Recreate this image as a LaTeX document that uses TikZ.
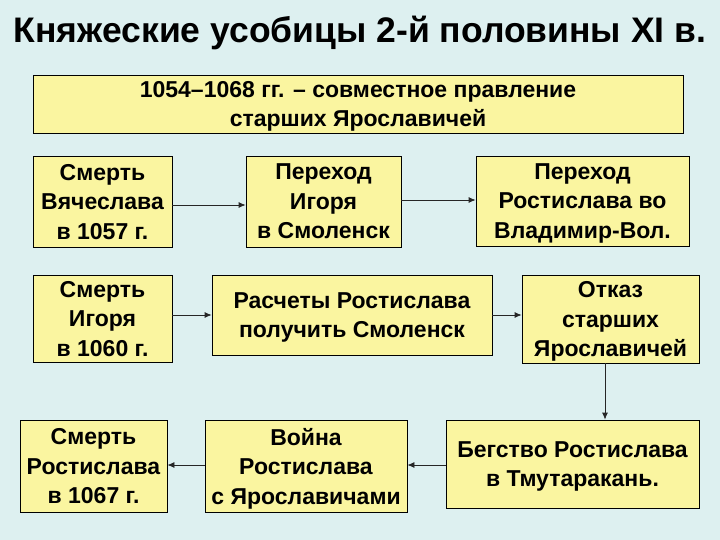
\documentclass[tikz,border=0pt]{standalone}
\usepackage{fontspec}
\setmainfont{Liberation Sans}
\usetikzlibrary{arrows.meta}
\definecolor{bg}{HTML}{DDF0F0}
\definecolor{boxy}{HTML}{FAF5A0}
\tikzset{
  bx/.style={draw=black, fill=boxy, line width=0.8pt, font=\bfseries\fontsize{23}{29.5}\selectfont, align=center, inner sep=0pt, text depth=0pt},
  ar/.style={draw=black!85, line width=0.8pt, -{Latex[length=7pt,width=6pt]}}
}
\begin{document}
\begin{tikzpicture}[x=1pt,y=-1pt]
\fill[bg] (0,0) rectangle (720,540);
\useasboundingbox (0,0) rectangle (720,540);
\node[font=\bfseries\fontsize{35.5}{40}\selectfont] (title) at (360,33) {Княжеские усобицы 2-й половины XI в.};
\node[bx, minimum width=650, minimum height=58] (top) at (358,104) {1054–1068 гг. – совместное правление\\старших Ярославичей};
\node[bx, minimum width=139, minimum height=91] (a1) at (102.5,201.5) {Смерть\\Вячеслава\\в 1057 г.};
\node[bx, minimum width=155, minimum height=91] (b1) at (323.5,201.5) {Переход\\Игоря\\в Смоленск};
\node[bx, minimum width=213, minimum height=90] (c1) at (582.5,201) {Переход\\Ростислава во\\Владимир-Вол.};
\node[bx, minimum width=139, minimum height=87] (a2) at (102.5,318.5) {Смерть\\Игоря\\в 1060 г.};
\node[bx, minimum width=280, minimum height=80] (b2) at (352,315) {Расчеты Ростислава\\получить Смоленск};
\node[bx, minimum width=177, minimum height=88] (c2) at (610.5,319) {Отказ\\старших\\Ярославичей};
\node[bx, minimum width=147, minimum height=92] (a3) at (93.5,466) {Смерть\\Ростислава\\в 1067 г.};
\node[bx, minimum width=202, minimum height=92] (b3) at (306,466) {Война\\Ростислава\\с Ярославичами};
\node[bx, minimum width=253, minimum height=88] (c3) at (572.5,464) {Бегство Ростислава\\в Тмутаракань.};
\draw[ar] (a1.east |- 0,205) -- (b1.west |- 0,205);
\draw[ar] (b1.east |- 0,200) -- (c1.west |- 0,200);
\draw[ar] (a2.east |- 0,315) -- (b2.west |- 0,315);
\draw[ar] (b2.east |- 0,315) -- (c2.west |- 0,315);
\draw[ar] (c2.south -| 605,0) -- (c3.north -| 605,0);
\draw[ar] (c3.west |- 0,465) -- (b3.east |- 0,465);
\draw[ar] (b3.west |- 0,465) -- (a3.east |- 0,465);
\end{tikzpicture}
\end{document}
